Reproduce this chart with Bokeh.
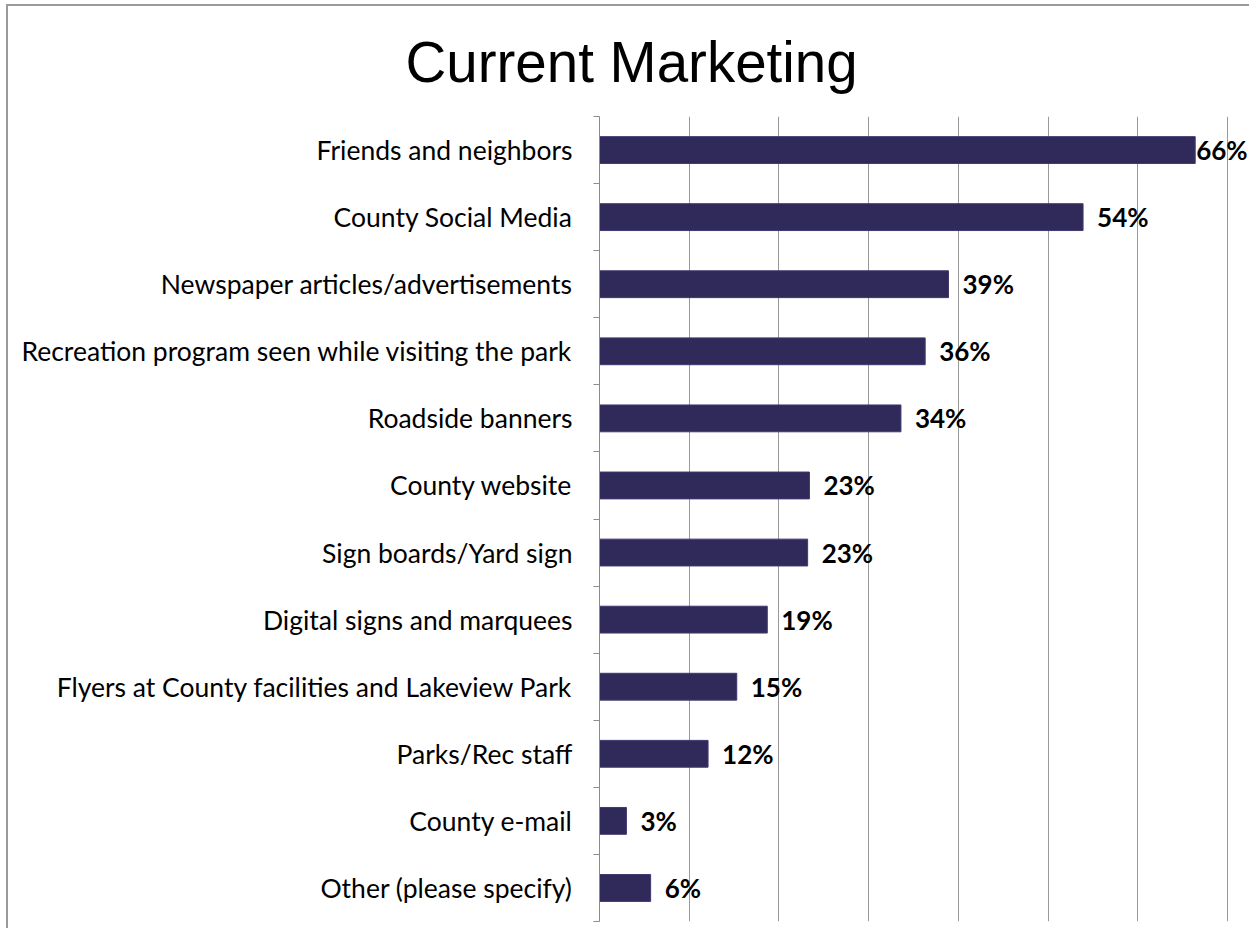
from bokeh.plotting import figure
from bokeh.models import ColumnDataSource, FixedTicker, Range1d
from bokeh.core.properties import value
from bokeh.embed import file_html
from bokeh.resources import INLINE

categories = [
    "Friends and neighbors",
    "County Social Media",
    "Newspaper articles/advertisements",
    "Recreation program seen while visiting the park",
    "Roadside banners",
    "County website",
    "Sign boards/Yard sign",
    "Digital signs and marquees",
    "Flyers at County facilities and Lakeview Park",
    "Parks/Rec staff",
    "County e-mail",
    "Other (please specify)",
]
values = [66.4, 53.9, 38.9, 36.3, 33.6, 23.4, 23.2, 18.7, 15.3, 12.1, 3.0, 5.7]
grid_ticks = [10, 20, 30, 40, 50, 60, 70]
title_text = "Current Marketing"

n = len(categories)
ypos = [n - i - 0.5 for i in range(n)]
labels = [f"{round(v)}%" for v in values]
offsets = [14 if v < 60 else 1 for v in values]

src = ColumnDataSource(dict(y=ypos, v=values, lab=labels, off=offsets))

W, H = 1243, 924
left_px = 591      # frame left in canvas px
grid_end_px = 1219 # 70% position in canvas px
x_end = 70 * (W - left_px) / (grid_end_px - left_px)

p = figure(
    width=W, height=H,
    x_range=Range1d(0, x_end), y_range=Range1d(0, n),
    output_backend="svg", toolbar_location=None,
    min_border_left=left_px, min_border_right=0,
    min_border_top=110, min_border_bottom=9,
)
p.styles = {
    "border-left": "2px solid #9a9a9a",
    "border-top": "2px solid #9a9a9a",
    "margin-left": "6px",
    "margin-top": "4px",
}
p.outline_line_color = None
p.background_fill_color = "white"
p.border_fill_color = "white"

p.title.text = title_text
p.title.align = "left"
p.title.offset = -194
p.title.text_font = "Liberation Sans"
p.title.text_font_size = "56.5px"
p.title.text_font_style = "normal"
p.title.text_color = "black"
p.title.standoff = 45

p.hbar(y="y", left=0, right="v", height=0.4, source=src,
       fill_color="#302a5a", line_color="#3e3870", line_width=1)

p.text(x="v", y="y", text="lab", x_offset="off", source=src,
       text_font=value("Lato"), text_font_style="bold",
       text_font_size="26px", text_baseline="middle", text_align="left",
       text_color="black")

p.xaxis.visible = False
p.xgrid.ticker = FixedTicker(ticks=grid_ticks)
p.xgrid.grid_line_color = "#999999"
p.xgrid.grid_line_width = 1
p.ygrid.visible = False

ax = p.yaxis[0]
ax.ticker = FixedTicker(ticks=ypos, minor_ticks=list(range(n + 1)))
ax.major_label_overrides = {y: c for y, c in zip(ypos, categories)}
ax.major_tick_line_color = None
ax.major_tick_out = 0
ax.major_tick_in = 0
ax.minor_tick_out = 6
ax.minor_tick_in = 0
ax.minor_tick_line_color = "#8c8c8c"
ax.axis_line_color = "#8c8c8c"
ax.major_label_standoff = 21
ax.major_label_text_font = "Lato"
ax.major_label_text_font_size = "26.5px"
ax.major_label_text_color = "black"

open("out.html", "w").write(file_html(p, INLINE))
